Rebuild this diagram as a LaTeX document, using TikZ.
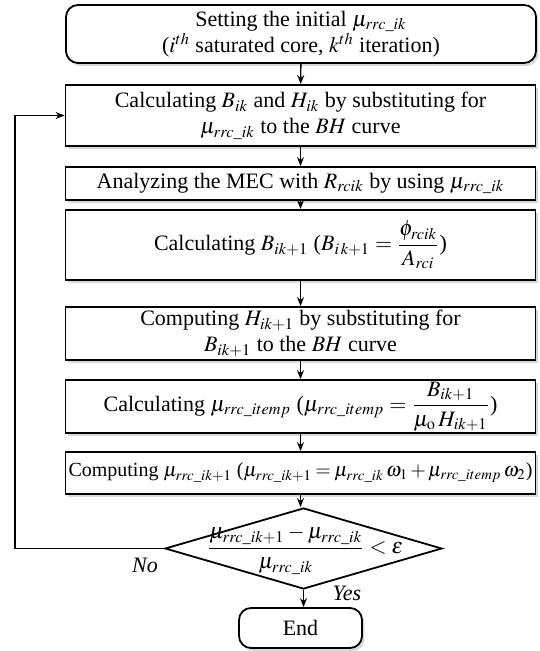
\documentclass[tikz,border=0pt]{standalone}
\usepackage{amsmath}
\usepackage{mathptmx}
\usepackage[no-math]{fontspec}
\setmainfont{Liberation Serif}
\usetikzlibrary{shapes.geometric,shadows,arrows.meta}
\tikzset{
box/.style={draw,line width=0.9pt,fill=white,minimum width=235pt,align=center,inner sep=0.5pt,
  drop shadow={shadow xshift=1.2pt,shadow yshift=-1.5pt,opacity=0.3}},
rbox/.style={box,rounded corners=6pt},
arr/.style={-{Stealth[length=4.5pt,width=3.5pt]},line width=0.7pt}
}
\begin{document}
\begin{tikzpicture}[x=0.5pt,y=-0.5pt,font=\fontsize{11}{13}\selectfont]
\useasboundingbox (0,0) rectangle (539,651);
\node[rbox,minimum height=29pt](init)at(301,34){Setting the initial $\mu_{rrc\_ik}$\\($i^{th}$ saturated core, $k^{th}$ iteration)};
\node[box,minimum height=30.5pt](calcB)at(300.5,115.5){Calculating $B_{ik}$ and $H_{ik}$ by substituting for\\$\mu_{rrc\_ik}$ to the $BH$ curve};
\node[box,minimum height=16.5pt](mec)at(300.5,183.5){Analyzing the MEC with $R_{rcik}$ by using $\mu_{rrc\_ik}$};
\node[box,minimum height=35pt](newB)at(300.5,245){Calculating $B_{ik+1}$ ($B_{i\,k+1}=\dfrac{\phi_{rcik}}{A_{rci}}$)};
\node[box,minimum height=26.5pt](newH)at(300.5,333.5){Computing $H_{ik+1}$ by substituting for\\$B_{ik+1}$ to the $BH$ curve};
\node[box,minimum height=26.5pt](temp)at(300.5,406.5){Calculating $\mu_{rrc\_itemp}$ ($\mu_{rrc\_itemp}=\dfrac{B_{ik+1}}{\mu_{\mathrm{o}}\,H_{ik+1}}$)};
\node[box,minimum height=21pt,font=\fontsize{10}{12}\selectfont](upd)at(300.5,473){\medmuskip=2mu\thickmuskip=3mu\relax Computing $\mu_{rrc\_ik+1}$ ($\mu_{rrc\_ik+1}=\mu_{rrc\_ik}\,\omega_1+\mu_{rrc\_itemp}\,\omega_2$)};
\node[diamond,draw,line width=0.9pt,fill=white,inner sep=0pt,minimum width=138.5pt,minimum height=40.5pt](chk)at(303.5,548.5){};
\node(cond)at(305,550){$\dfrac{\mu_{rrc\_ik+1}-\mu_{rrc\_ik}}{\mu_{rrc\_ik}}<\varepsilon$};
\node[rbox,minimum width=61.5pt,minimum height=20pt](end)at(300.5,628){End};
\coordinate(back)at(15,548.5);
% labels
\node(no)at(145,565){\textit{No}};
\node(yes)at(347,593){\textit{Yes}};
% arrows
\draw[arr](init)--(calcB);
\draw[arr](calcB)--(mec);
\draw[arr](mec)--(newB);
\draw[arr](newB)--(newH);
\draw[arr](newH)--(temp);
\draw[arr](temp)--(upd);
\draw[arr](upd.south)--(upd.south|-chk.north);
\draw[arr](chk.south)--(chk.south|-end.north);
\draw[arr](chk.west)--(back)|-(calcB.west);
\end{tikzpicture}
\end{document}
